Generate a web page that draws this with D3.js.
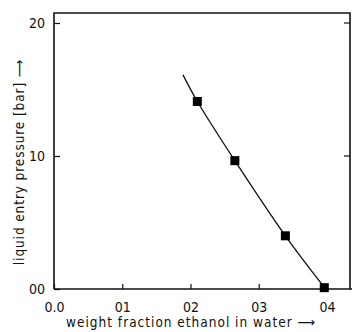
<!DOCTYPE html>
<html>
<head>
<meta charset="utf-8">
<script src="https://cdn.jsdelivr.net/npm/d3@7"></script>
<style>
  body { margin: 0; background: #fff; }
  text { font-family: "DejaVu Sans Condensed", "DejaVu Sans", sans-serif; fill: #111; }
</style>
</head>
<body>
<script>
// measured points (weight fraction ethanol, entry pressure in bar)
var fraction = [0.210, 0.265, 0.339, 0.396];
var pressure = [14.1, 9.65, 4.0, 0.1];
// fitted curve drawn through the points
var curveX = [0.189, 0.210, 0.265, 0.339, 0.398];
var curveY = [16.1, 14.1, 9.65, 4.0, 0.0];
var xTicks = [0, 0.1, 0.2, 0.3, 0.4];
var xTickLabels = ["0.0", "01", "02", "03", "04"];
var yTicks = [0, 10, 20];
var yTickLabels = ["00", "10", "20"];

var w = 352, h = 332;
var svg = d3.select("body").append("svg")
    .attr("width", w)
    .attr("height", h);

var x = d3.scaleLinear().domain([0, 0.4]).range([54, 327]);
var y = d3.scaleLinear().domain([0, 20]).range([289, 23]);

// frame
svg.append("path")
    .attr("d", "M" + x(0) + "," + y(0) + "V13H350V" + y(0))
    .attr("fill", "none")
    .attr("stroke", "#111")
    .attr("stroke-width", 1.6);
svg.append("line")
    .attr("x1", x(0)).attr("x2", w)
    .attr("y1", y(0)).attr("y2", y(0))
    .attr("stroke", "#111").attr("stroke-width", 1.6);

function styleTicks(g) {
  g.select(".domain").remove();
  g.selectAll("line").attr("stroke", "#111").attr("stroke-width", 1.2);
  g.selectAll("text").attr("font-size", 14).attr("fill", "#111")
    .style("font-family", "'DejaVu Sans Condensed', sans-serif");
}

// x ticks (inward)
svg.append("g")
    .attr("transform", "translate(0," + y(0) + ")")
    .call(d3.axisBottom(x).tickValues(xTicks).tickSizeInner(-5).tickSizeOuter(0)
      .tickPadding(13).tickFormat(function(d, i) { return xTickLabels[i]; }))
    .call(styleTicks);

// y ticks (inward)
svg.append("g")
    .attr("transform", "translate(" + x(0) + ",0)")
    .call(d3.axisLeft(y).tickValues(yTicks).tickSizeInner(-6).tickSizeOuter(0)
      .tickPadding(9).tickFormat(function(d, i) { return yTickLabels[i]; }))
    .call(styleTicks);

// right side ticks
svg.append("g")
    .selectAll("line")
    .data(yTicks.slice(1))
    .enter().append("line")
    .attr("x1", 344).attr("x2", 350)
    .attr("y1", function(d) { return y(d); })
    .attr("y2", function(d) { return y(d); })
    .attr("stroke", "#111").attr("stroke-width", 1.2);

// curve
var line = d3.line()
    .x(function(d) { return x(d[0]); })
    .y(function(d) { return y(d[1]); })
    .curve(d3.curveCatmullRom);
svg.append("path")
    .datum(d3.zip(curveX, curveY))
    .attr("d", line)
    .attr("fill", "none")
    .attr("stroke", "#111")
    .attr("stroke-width", 1.3);

// markers
svg.selectAll("rect.pt")
    .data(d3.zip(fraction, pressure))
    .enter().append("rect")
    .attr("class", "pt")
    .attr("x", function(d) { return x(d[0]) - 4.5; })
    .attr("y", function(d) { return y(d[1]) - 4.5; })
    .attr("width", 9)
    .attr("height", 9)
    .attr("fill", "#000");

// axis titles
svg.append("text")
    .attr("transform", "translate(24,162) rotate(-90)")
    .attr("text-anchor", "middle")
    .attr("font-size", 13.5)
    .attr("letter-spacing", 0.9)
    .text("liquid entry pressure [bar] \u27F6");

svg.append("text")
    .attr("x", 191)
    .attr("y", 327)
    .attr("text-anchor", "middle")
    .attr("font-size", 13.5)
    .attr("letter-spacing", 1)
    .text("weight fraction ethanol in water \u27F6");
</script>
</body>
</html>
